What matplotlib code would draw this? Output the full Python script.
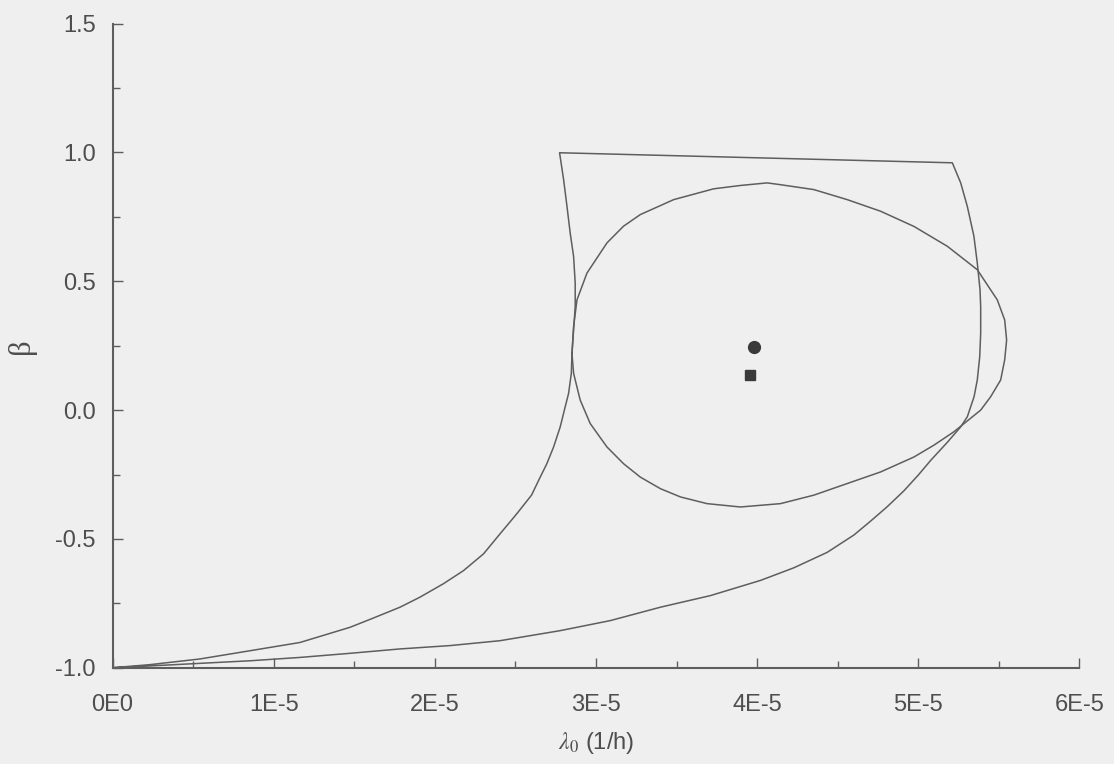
import numpy as np
import matplotlib
matplotlib.use("Agg")
import matplotlib.pyplot as plt
from matplotlib.ticker import MultipleLocator

# region boundary, x in units of 1E-5 (1/h)
# upper-left branch from (0, -1) up to the top-left corner
left_x = [0.0, 0.232, 0.542, 0.853, 1.163, 1.474, 1.619, 1.784, 1.908, 2.053,
          2.178, 2.302, 2.405, 2.509, 2.60, 2.654, 2.695, 2.737, 2.778, 2.809,
          2.830, 2.847, 2.851, 2.861, 2.871, 2.871, 2.861, 2.84, 2.82, 2.799, 2.774]
left_y = [-1.0, -0.988, -0.966, -0.934, -0.902, -0.843, -0.807, -0.765, -0.726, -0.674,
          -0.623, -0.558, -0.48, -0.402, -0.33, -0.26, -0.208, -0.143, -0.065, 0.013,
          0.065, 0.143, 0.220, 0.311, 0.402, 0.493, 0.597, 0.687, 0.791, 0.895, 0.999]
# top edge and right branch back down to (0, -1)
right_x = [5.211, 5.263, 5.304, 5.345, 5.366, 5.383, 5.387, 5.387, 5.381, 5.366,
           5.346, 5.304, 5.263, 5.18, 5.077, 5.0, 4.911, 4.807, 4.70, 4.60,
           4.435, 4.228, 4.021, 3.71, 3.40, 3.089, 2.778, 2.405, 2.095, 1.784,
           1.474, 1.163, 0.853, 0.542, 0.232, 0.0]
right_y = [0.96, 0.882, 0.791, 0.675, 0.571, 0.467, 0.402, 0.298, 0.207, 0.117,
           0.052, -0.026, -0.065, -0.125, -0.195, -0.252, -0.313, -0.375, -0.433, -0.485,
           -0.552, -0.612, -0.661, -0.72, -0.765, -0.817, -0.856, -0.895, -0.914, -0.927,
           -0.944, -0.96, -0.973, -0.983, -0.993, -1.0]

# confidence ellipse
ell_x = [2.851, 2.861, 2.882, 2.944, 3.068, 3.171, 3.275, 3.482, 3.730, 3.896,
         4.062, 4.145, 4.352, 4.559, 4.766, 4.973, 5.18, 5.366, 5.49, 5.536,
         5.548, 5.536, 5.511, 5.449, 5.387, 5.221, 5.097, 4.973, 4.766, 4.559,
         4.352, 4.145, 3.896, 3.689, 3.524, 3.40, 3.275, 3.171, 3.068, 2.964,
         2.902, 2.861, 2.851]
ell_y = [0.220, 0.324, 0.428, 0.532, 0.649, 0.714, 0.759, 0.817, 0.859, 0.872,
         0.882, 0.875, 0.856, 0.817, 0.772, 0.713, 0.636, 0.545, 0.428, 0.350,
         0.272, 0.195, 0.117, 0.052, 0.0, -0.084, -0.136, -0.182, -0.240, -0.285,
         -0.33, -0.363, -0.376, -0.363, -0.337, -0.305, -0.26, -0.208, -0.143, -0.052,
         0.039, 0.143, 0.220]

# point estimates
circle_pt = (3.979, 0.246)
square_pt = (3.958, 0.136)

x_ticks = [0, 1, 2, 3, 4, 5, 6]
x_tick_labels = ["0E0", "1E-5", "2E-5", "3E-5", "4E-5", "5E-5", "6E-5"]
y_ticks = [-1.0, -0.5, 0.0, 0.5, 1.0, 1.5]

SCALE = 1e-5
LINE = "#5e5e5e"
TEXT = "#4e4e4e"
BG = "#efefef"

plt.rcParams["font.family"] = ["Liberation Sans", "DejaVu Sans"]
plt.rcParams["mathtext.fontset"] = "stix"

fig = plt.figure(figsize=(11.14, 7.64), dpi=100, facecolor=BG)
ax = fig.add_axes([0.101, 0.126, 0.868, 0.843], facecolor=BG)

bx = np.array(left_x + right_x) * SCALE
by = left_y + right_y
ax.plot(bx, by, color=LINE, lw=1.1)
ax.plot(np.array(ell_x) * SCALE, ell_y, color=LINE, lw=1.1)
ax.plot(circle_pt[0] * SCALE, circle_pt[1], "o", color="#3a3a3a", ms=8.5, mec="#3a3a3a")
ax.plot(square_pt[0] * SCALE, square_pt[1], "s", color="#3a3a3a", ms=7, mec="#3a3a3a")

ax.set_xlim(0, 6e-5)
ax.set_ylim(-1.0, 1.5)
ax.set_xticks([t * SCALE for t in x_ticks])
ax.set_xticklabels(x_tick_labels)
ax.set_yticks(y_ticks)
ax.set_yticklabels([f"{v:.1f}" for v in y_ticks])
ax.xaxis.set_minor_locator(MultipleLocator(0.5e-5))
ax.yaxis.set_minor_locator(MultipleLocator(0.25))

for side in ("top", "right"):
    ax.spines[side].set_visible(False)
for side in ("left", "bottom"):
    ax.spines[side].set_color(LINE)
    ax.spines[side].set_linewidth(1.5)

ax.tick_params(which="both", direction="in", color=LINE, labelcolor=TEXT,
               labelsize=17)
ax.tick_params(which="major", length=7, width=1.0)
ax.tick_params(which="minor", length=5, width=1.0)
ax.tick_params(axis="x", pad=19)
ax.tick_params(axis="y", pad=12)

ax.set_xlabel(r"$\lambda_0$ (1/h)", fontsize=17, color=TEXT, labelpad=10)
ax.set_ylabel("β", family=["Liberation Serif", "DejaVu Serif"], fontsize=22,
              color=TEXT, labelpad=14)

fig.savefig("out.png", dpi=100, facecolor=BG)
